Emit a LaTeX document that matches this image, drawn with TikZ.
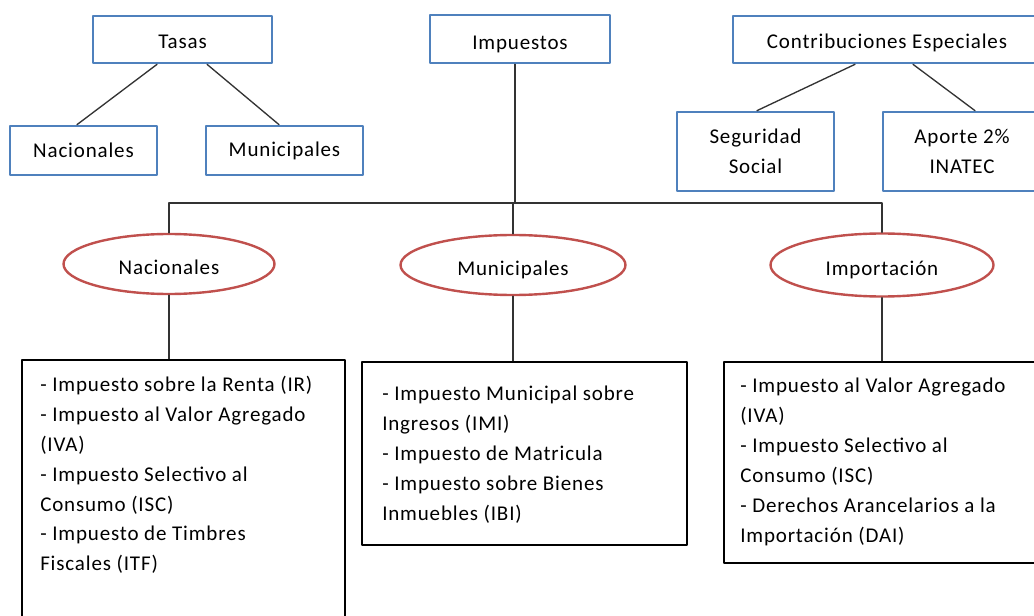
\documentclass[tikz,border=0pt]{standalone}
\usepackage{fontspec}
\setmainfont{Carlito}[LetterSpace=4]
\usetikzlibrary{shapes.geometric}
\definecolor{boxblue}{HTML}{4F81BD}
\definecolor{ovalred}{HTML}{C0504D}
\begin{document}
\begin{tikzpicture}[x=0.75pt,y=-0.75pt,font=\fontsize{15.75}{22.4}\selectfont,line join=round,line cap=round,
	bluebox/.style={draw=boxblue,line width=2pt,inner sep=0pt,align=center},
	oval/.style={ellipse,draw=ovalred,line width=1.8pt,inner sep=0pt,text height=16pt,text depth=0pt},
	listbox/.style={draw=black,line width=2pt,inner sep=0pt},
	listtxt/.style={anchor=north west,inner sep=0pt,align=left},
	lowtxt/.style={text height=14pt,text depth=0pt},
	link/.style={draw=black!80,line width=1pt}]
	\path[use as bounding box,clip] (0,0) rectangle (1034,616);
	% Tasas
	\node[bluebox,lowtxt,minimum width=134.25pt,minimum height=35.25pt] (tasas) at (182.5,39.5) {Tasas};
	\node[bluebox,minimum width=110.25pt,minimum height=36.75pt] (tnac) at (83.5,150.5) {Nacionales};
	\node[bluebox,minimum width=117.75pt,minimum height=36.75pt] (tmun) at (284.5,150.5) {Municipales};
	\draw[link] ([xshift=-19.1pt]tasas.south)--([xshift=-4.9pt]tnac.north);
	\draw[link] ([xshift=18.4pt]tasas.south)--([xshift=-4.1pt]tmun.north);
	% Contribuciones
	\node[bluebox,lowtxt,minimum width=231pt,minimum height=35.25pt] (contrib) at (887,39.5) {Contribuciones Especiales};
	\node[bluebox,minimum width=117.75pt,minimum height=59.25pt] (seg) at (755.5,151.5) {Seguridad\\Social};
	\node[bluebox,minimum width=118.5pt,minimum height=59.25pt] (aporte) at (962,151.5) {Aporte 2\%\\INATEC};
	\draw[link] ([xshift=-24pt]contrib.south)--([xshift=1.1pt]seg.north);
	\draw[link] ([xshift=19.5pt]contrib.south)--([xshift=9.75pt]aporte.north);
	% Impuestos
	\node[bluebox,minimum width=135pt,minimum height=36pt,text height=16pt,text depth=0pt] (imp) at (520,39) {Impuestos};
	\coordinate (bus) at (515,203);
	\node[oval,minimum width=158.25pt,minimum height=45pt] (enac) at (169,264) {Nacionales};
	\node[oval,minimum width=168.75pt,minimum height=45pt] (emun) at (513,265) {Municipales};
	\node[oval,minimum width=167.25pt,minimum height=47.25pt] (eimp) at (882,265) {Importación};
	\draw[link] (bus |- imp.south)--(bus);
	\draw[link] (enac) |- (bus) -| (eimp);
	\draw[link] (bus)--(bus -| emun.north)--(emun.north);
	\node[listbox,minimum width=242.25pt,minimum height=210pt] (lnac) at (183.5,500) {};
	\node[listbox,minimum width=243.75pt,minimum height=137.25pt] (lmun) at (524.5,453.5) {};
	\node[listbox,minimum width=240.75pt,minimum height=150.75pt] (limp) at (884.5,462.5) {};
	\draw[link] (enac.south)--(enac.south |- lnac.north);
	\draw[link] (emun.south)--(emun.south |- lmun.north);
	\draw[link] (eimp.south)--(eimp.south |- limp.north);
	\node[listtxt] (tlnac) at (40,376) {- Impuesto sobre la Renta (IR)\\- Impuesto al Valor Agregado\\(IVA)\\- Impuesto Selectivo al\\Consumo (ISC)\\- Impuesto de Timbres\\Fiscales (ITF)};
	\node[listtxt] (tlmun) at (382,386) {- Impuesto Municipal sobre\\Ingresos (IMI)\\- Impuesto de Matricula\\- Impuesto sobre Bienes\\Inmuebles (IBI)};
	\node[listtxt] (tlimp) at (740,378) {- Impuesto al Valor Agregado\\(IVA)\\- Impuesto Selectivo al\\Consumo (ISC)\\- Derechos Arancelarios a la\\Importación (DAI)};
\end{tikzpicture}
\end{document}
